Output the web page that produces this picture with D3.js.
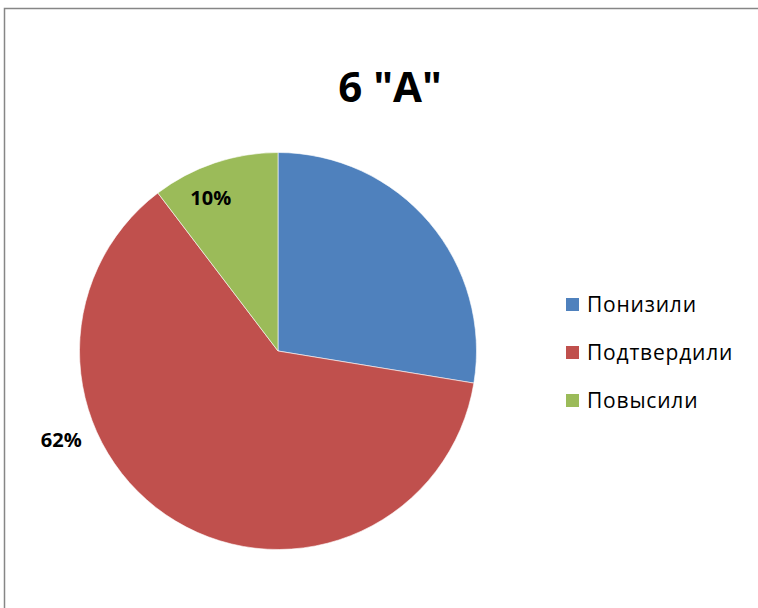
<!DOCTYPE html>
<html><head><meta charset="utf-8">
<script src="https://cdn.jsdelivr.net/npm/d3@7"></script>
<style>body{margin:0;background:#fff}</style>
</head><body>
<script>
const categories = ["Понизили", "Подтвердили", "Повысили"];
const values = [8, 18, 3];
const showLabel = [false, true, true];
const colors = ["#4F81BD", "#C0504D", "#9BBB59"];
const title = "6 \"А\"";

const W = 758, H = 608;
const FONT = "'Open Sans', Lato, sans-serif";
const svg = d3.select("body").append("svg").attr("width", W).attr("height", H);
svg.append("rect").attr("x", 4.5).attr("y", 8.5).attr("width", W + 10).attr("height", H + 10)
  .attr("fill", "#fff").attr("stroke", "#868686").attr("stroke-width", 1.5);

svg.append("text").attr("x", 390).attr("y", 102).attr("text-anchor", "middle")
  .attr("font-family", FONT).attr("font-weight", "bold")
  .attr("font-size", 42).attr("fill", "#000").text(title);

const cx = 278, cy = 351, R = 198.5;
const total = d3.sum(values);
const pie = d3.pie().sort(null).value(d => d)(values);
const arc = d3.arc().innerRadius(0).outerRadius(R);
const g = svg.append("g").attr("transform", `translate(${cx},${cy})`);
g.selectAll("path").data(pie).join("path")
  .attr("d", arc).attr("fill", (d, i) => colors[i])
  .attr("stroke", "#fff").attr("stroke-width", 0.6);

// best-fit style placement: large slice label outside, small slice label inside
function labelPos(d) {
  const span = d.endAngle - d.startAngle;
  let a, r;
  if (span > Math.PI) { a = d.startAngle + span * 0.5 + 0.64; r = R * 1.18; }
  else { a = d.startAngle + span * 0.5 - 0.09; r = R * 0.84; }
  return [r * Math.sin(a), -r * Math.cos(a)];
}
g.selectAll("text.lbl").data(pie.filter(d => showLabel[d.index])).join("text").attr("class", "lbl")
  .attr("transform", d => { const p = labelPos(d); return `translate(${p[0]},${p[1]})`; })
  .attr("text-anchor", "middle").attr("dy", "0.35em")
  .attr("font-family", FONT).attr("font-weight", "bold")
  .attr("font-size", 20).attr("fill", "#000")
  .text(d => Math.round(d.data / total * 100) + "%");

const lg = svg.append("g").attr("transform", "translate(566,298)");
const items = lg.selectAll("g").data(categories).join("g")
  .attr("transform", (d, i) => `translate(0,${i * 48})`);
items.append("rect").attr("width", 13).attr("height", 13).attr("fill", (d, i) => colors[i]);
items.append("text").attr("x", 21).attr("y", 6.5).attr("dy", "0.35em")
  .attr("font-family", FONT).attr("font-size", 21).attr("letter-spacing", 0.8).attr("fill", "#000")
  .text(d => d);
</script>
</body></html>
